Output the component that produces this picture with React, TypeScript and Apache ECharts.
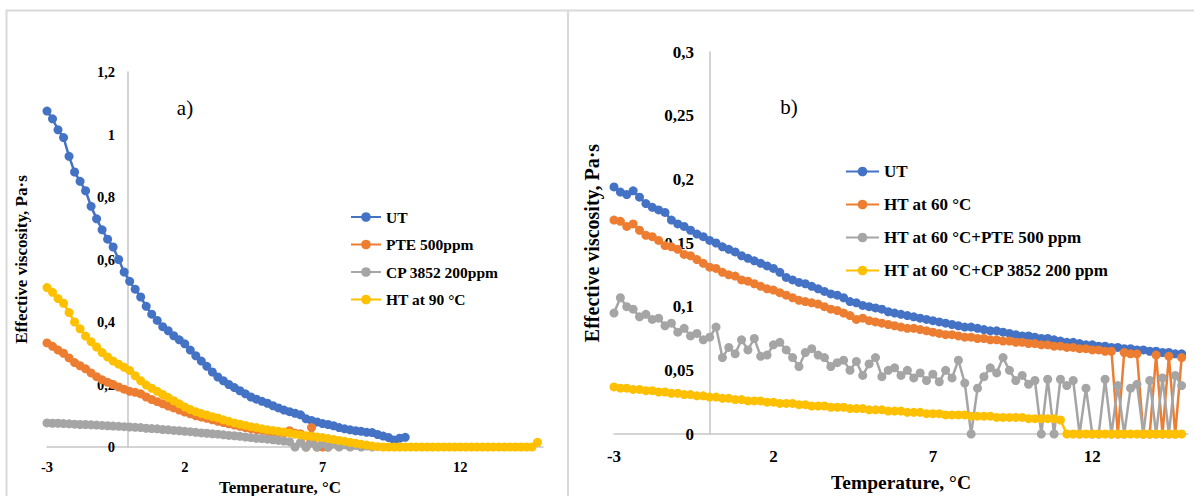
import React, { useEffect, useRef } from "react";
import * as echarts from "echarts";

// Temperature grid (°C), shared by every series
const TEMPS = [
  -3, -2.8, -2.6, -2.4, -2.2, -2, -1.8, -1.6, -1.4, -1.2, -1, -0.8, -0.6, -0.4, -0.2,
  0, 0.2, 0.4, 0.6, 0.8, 1, 1.2, 1.4, 1.6, 1.8, 2, 2.2, 2.4, 2.6, 2.8,
  3, 3.2, 3.4, 3.6, 3.8, 4, 4.2, 4.4, 4.6, 4.8, 5, 5.2, 5.4, 5.6, 5.8,
  6, 6.2, 6.4, 6.6, 6.8, 7, 7.2, 7.4, 7.6, 7.8, 8, 8.2, 8.4, 8.6, 8.8,
  9, 9.2, 9.4, 9.6, 9.8, 10, 10.2, 10.4, 10.6, 10.8, 11, 11.2, 11.4, 11.6, 11.8,
  12, 12.2, 12.4, 12.6, 12.8, 13, 13.2, 13.4, 13.6, 13.8, 14, 14.2, 14.4, 14.6, 14.8,
];

// Panel a) effective viscosity, Pa·s
const A_UT = [
  1.075, 1.05, 1.015, 0.99, 0.93, 0.88, 0.85, 0.82, 0.77, 0.73, 0.695, 0.665, 0.64, 0.6, 0.56,
  0.53, 0.505, 0.48, 0.45, 0.425, 0.405, 0.385, 0.372, 0.356, 0.343, 0.33, 0.31, 0.292, 0.275, 0.258,
  0.24, 0.224, 0.212, 0.2, 0.19, 0.18, 0.17, 0.16, 0.153, 0.146, 0.14, 0.132, 0.125, 0.118, 0.113,
  0.108, 0.103, 0.09, 0.085, 0.08, 0.075, 0.072, 0.068, 0.062, 0.058, 0.055, 0.052, 0.05, 0.047, 0.046,
  0.04, 0.035, 0.03, 0.022, 0.028, 0.031,
];
const A_PTE = [
  0.333, 0.322, 0.31, 0.3, 0.285, 0.27, 0.26, 0.25, 0.237, 0.225, 0.215, 0.207, 0.2, 0.192, 0.185,
  0.178, 0.175, 0.17, 0.16, 0.152, 0.145, 0.138, 0.131, 0.125, 0.118, 0.112, 0.106, 0.1, 0.096, 0.092,
  0.087, 0.082, 0.078, 0.074, 0.07, 0.066, 0.062, 0.059, 0.056, 0.053, 0.05, 0.048, 0.046, 0.045, 0.052,
  0.044, 0.042, 0, 0.062, 0, 0, 0,
];
const A_CP = [
  0.077, 0.076, 0.076, 0.075, 0.074, 0.073, 0.072, 0.072, 0.071, 0.07, 0.069, 0.068, 0.067, 0.066, 0.065,
  0.064, 0.063, 0.062, 0.06, 0.059, 0.058, 0.056, 0.055, 0.053, 0.052, 0.05, 0.049, 0.047, 0.045, 0.044,
  0.042, 0.041, 0.039, 0.037, 0.036, 0.034, 0.032, 0.03, 0.028, 0.027, 0.025, 0.023, 0.021, 0.019, 0.017,
  0, 0.015, 0, 0.013, 0, 0.011, 0, 0.009, 0, 0.007, 0, 0.005, 0, 0.003, 0,
];
const A_HT90 = [
  0.51, 0.495, 0.475, 0.46, 0.43, 0.4, 0.378, 0.355, 0.337, 0.32, 0.302, 0.288, 0.275, 0.265, 0.255,
  0.245, 0.228, 0.212, 0.198, 0.188, 0.178, 0.168, 0.158, 0.148, 0.138, 0.128, 0.12, 0.113, 0.107, 0.102,
  0.097, 0.093, 0.087, 0.082, 0.077, 0.073, 0.069, 0.065, 0.062, 0.058, 0.055, 0.053, 0.05, 0.048, 0.045,
  0.041, 0.038, 0.036, 0.034, 0.032, 0.03, 0.027, 0.024, 0.021, 0.018, 0.015, 0.012, 0.009, 0.006, 0.003,
  0.001, 0, 0, 0, 0, 0, 0, 0, 0, 0, 0, 0, 0, 0, 0,
  0, 0, 0, 0, 0, 0, 0, 0, 0, 0, 0, 0, 0, 0, 0.015,
];

// Panel b) effective viscosity, Pa·s
const B_UT = [
  0.194, 0.19, 0.188, 0.191, 0.186, 0.181, 0.178, 0.176, 0.174, 0.168, 0.165, 0.163, 0.16, 0.157, 0.155,
  0.152, 0.15, 0.147, 0.145, 0.143, 0.14, 0.138, 0.136, 0.134, 0.132, 0.13, 0.127, 0.123, 0.121, 0.119,
  0.118, 0.116, 0.114, 0.112, 0.11, 0.109, 0.107, 0.104, 0.103, 0.101, 0.1, 0.099, 0.098, 0.096, 0.095,
  0.094, 0.093, 0.092, 0.091, 0.09, 0.089, 0.088, 0.087, 0.086, 0.085, 0.084, 0.084, 0.083, 0.082, 0.081,
  0.081, 0.08, 0.079, 0.078, 0.077, 0.077, 0.076, 0.075, 0.075, 0.074, 0.073, 0.072, 0.072, 0.071, 0.07,
  0.07, 0.069, 0.069, 0.068, 0.068, 0.067, 0.067, 0.066, 0.066, 0.065, 0.065, 0.064, 0.064, 0.063, 0.063,
];
const B_HT60 = [
  0.168, 0.167, 0.163, 0.165, 0.16, 0.156, 0.155, 0.152, 0.148, 0.147, 0.145, 0.141, 0.14, 0.137, 0.134,
  0.131, 0.13, 0.127, 0.125, 0.124, 0.121, 0.12, 0.118, 0.116, 0.114, 0.113, 0.111, 0.109, 0.107, 0.105,
  0.104, 0.103, 0.102, 0.1, 0.098, 0.097, 0.095, 0.093, 0.09, 0.091, 0.089, 0.088, 0.087, 0.086, 0.085,
  0.084, 0.083, 0.083, 0.082, 0.081, 0.08, 0.079, 0.078, 0.078, 0.077, 0.076, 0.076, 0.075, 0.075, 0.074,
  0.074, 0.073, 0.073, 0.072, 0.072, 0.071, 0.071, 0.07, 0.07, 0.069, 0.069, 0.068, 0.068, 0.067, 0.067,
  0.066, 0.066, 0.065, 0.065, 0, 0.064, 0.063, 0.063, 0, 0, 0.062, 0, 0.061, 0, 0.06,
];
const B_HT60_PTE = [
  0.095, 0.107, 0.1, 0.098, 0.092, 0.094, 0.09, 0.091, 0.085, 0.087, 0.08, 0.083, 0.077, 0.079, 0.074,
  0.076, 0.084, 0.06, 0.068, 0.063, 0.074, 0.066, 0.075, 0.061, 0.062, 0.07, 0.072, 0.066, 0.06, 0.053,
  0.064, 0.067, 0.062, 0.06, 0.053, 0.056, 0.058, 0.05, 0.057, 0.046, 0.055, 0.06, 0.045, 0.05, 0.052,
  0.046, 0.05, 0.044, 0.048, 0.042, 0.047, 0.041, 0.05, 0.044, 0.058, 0.04, 0, 0.036, 0.045, 0.052,
  0.048, 0.06, 0.05, 0.042, 0.046, 0.039, 0.042, 0, 0.043, 0, 0.043, 0.038, 0.042, 0, 0.036,
  0, 0, 0.043, 0, 0.038, 0, 0.036, 0.039, 0, 0.042, 0, 0.044, 0, 0.046, 0.038,
];
const B_HT60_CP = [
  0.037, 0.036, 0.036, 0.035, 0.035, 0.034, 0.034, 0.033, 0.033, 0.032, 0.032, 0.031, 0.031, 0.03, 0.03,
  0.029, 0.029, 0.028, 0.028, 0.027, 0.027, 0.026, 0.026, 0.026, 0.025, 0.025, 0.024, 0.024, 0.024, 0.023,
  0.023, 0.022, 0.022, 0.022, 0.021, 0.021, 0.021, 0.02, 0.02, 0.02, 0.019, 0.019, 0.019, 0.018, 0.018,
  0.018, 0.017, 0.017, 0.017, 0.016, 0.016, 0.016, 0.015, 0.015, 0.015, 0.015, 0.014, 0.014, 0.014, 0.014,
  0.013, 0.013, 0.013, 0.013, 0.013, 0.012, 0.012, 0.012, 0.012, 0.012, 0.011, 0, 0, 0, 0,
  0, 0, 0, 0, 0, 0, 0, 0, 0, 0, 0, 0, 0, 0, 0,
];

const NAMES_A = ["UT", "PTE 500ppm", "CP 3852 200ppm", "HT at 90 °C"];
const NAMES_B = ["UT", "HT at 60 °C", "HT at 60 °C+PTE 500 ppm", "HT at 60 °C+CP 3852 200 ppm"];
const X_NAME = "Temperature, °C";
const Y_NAME = "Effective viscosity, Pa·s";

const COLORS = ["#4472C4", "#ED7D31", "#A5A5A5", "#FFC000"];
const SERIF = "'Liberation Serif', 'Times New Roman', serif";
const AXIS_GRAY = "#c6c6c6";
const BORDER_GRAY = "#d9d9d9";

const pairs = (vals: number[]) => vals.map((v, i) => [TEMPS[i], v]);
const commaFmt = (v: number) => String(Math.round(v * 1000) / 1000).replace(".", ",");

function mkSeries(name: string, vals: number[], color: string, idx: number) {
  return {
    type: "line",
    name,
    xAxisIndex: idx,
    yAxisIndex: idx,
    data: pairs(vals),
    symbol: "circle",
    symbolSize: 9,
    showSymbol: true,
    lineStyle: { color, width: 2.5 },
    itemStyle: { color },
    emphasis: { disabled: true },
  };
}

function mkXAxis(idx: number, fontSize: number, margin: number, nameSize: number, nameGap: number, namePad: number[]) {
  return {
    type: "value",
    gridIndex: idx,
    min: -3,
    max: 15,
    interval: 5,
    axisLine: { show: true, onZero: false, lineStyle: { color: AXIS_GRAY, width: 1.5 } },
    axisTick: { show: false },
    splitLine: { show: false },
    axisLabel: {
      showMaxLabel: false,
      margin,
      fontFamily: SERIF,
      fontWeight: "bold",
      fontSize,
      color: "#000",
    },
    name: X_NAME,
    nameLocation: "middle",
    nameGap,
    nameTextStyle: { fontFamily: SERIF, fontWeight: "bold", fontSize: nameSize, color: "#000", padding: namePad },
  };
}

// offset < 0 moves the vertical axis inward so that it crosses the x axis at 0 °C
function mkYAxis(idx: number, max: number, interval: number, offset: number, fontSize: number, margin: number, nameSize: number, nameGap: number) {
  return {
    type: "value",
    gridIndex: idx,
    min: 0,
    max,
    interval,
    offset,
    axisLine: { show: true, onZero: false, lineStyle: { color: AXIS_GRAY, width: 1.5 } },
    axisTick: { show: false },
    splitLine: { show: false },
    axisLabel: {
      margin,
      fontFamily: SERIF,
      fontWeight: "bold",
      fontSize,
      color: "#000",
      formatter: commaFmt,
    },
    name: Y_NAME,
    nameLocation: "middle",
    nameGap,
    nameTextStyle: { fontFamily: SERIF, fontWeight: "bold", fontSize: nameSize, color: "#000" },
  };
}

export default function App() {
  const ref = useRef<HTMLDivElement>(null);

  useEffect(() => {
    if (!ref.current) return;
    const chart = echarts.init(ref.current, null, { renderer: "svg" });
    const seriesA = [A_UT, A_PTE, A_CP, A_HT90].map((vals, i) => mkSeries(NAMES_A[i], vals, COLORS[i], 0));
    const seriesB = [B_UT, B_HT60, B_HT60_PTE, B_HT60_CP].map((vals, i) => mkSeries(NAMES_B[i], vals, COLORS[i], 1));

    const option: any = {
      animation: false,
      backgroundColor: "#ffffff",
      grid: [
        { left: 47, top: 72, width: 496, height: 375, containLabel: false, outerBoundsMode: "none" },
        { left: 614, top: 52, width: 574, height: 382, containLabel: false, outerBoundsMode: "none" },
      ],
      xAxis: [
        mkXAxis(0, 14.5, 12, 17, 28, [0, 30, 0, 0]),
        mkXAxis(1, 17, 14, 19.5, 38, [0, 0, 0, 0]),
      ],
      yAxis: [
        mkYAxis(0, 1.2, 0.2, -81, 14.5, 13, 17, 98),
        mkYAxis(1, 0.3, 0.05, -96, 17, 16, 20, 108),
      ],
      legend: [
        {
          data: NAMES_A,
          orient: "vertical",
          left: 345,
          top: 204,
          itemWidth: 30,
          itemHeight: 12,
          itemGap: 11.5,
          textStyle: { fontFamily: SERIF, fontWeight: "bold", fontSize: 15.5, color: "#000" },
          selectedMode: false,
        },
        {
          data: NAMES_B,
          orient: "vertical",
          left: 840,
          top: 158,
          itemWidth: 33,
          itemHeight: 12,
          itemGap: 16,
          textStyle: { fontFamily: SERIF, fontWeight: "bold", fontSize: 17, color: "#000" },
          selectedMode: false,
        },
      ],
      graphic: [
        { type: "line", shape: { x1: 6, y1: 10.5, x2: 1194, y2: 10.5 }, style: { stroke: BORDER_GRAY, lineWidth: 2 }, silent: true },
        { type: "line", shape: { x1: 6.5, y1: 10, x2: 6.5, y2: 496 }, style: { stroke: BORDER_GRAY, lineWidth: 2 }, silent: true },
        { type: "line", shape: { x1: 568, y1: 10, x2: 568, y2: 496 }, style: { stroke: BORDER_GRAY, lineWidth: 2 }, silent: true },
        {
          type: "text",
          x: 185,
          y: 108,
          style: { text: "a)", fontFamily: SERIF, fontSize: 21, fill: "#000", align: "center", verticalAlign: "middle" },
          silent: true,
        },
        {
          type: "text",
          x: 789,
          y: 107,
          style: { text: "b)", fontFamily: SERIF, fontSize: 21, fill: "#000", align: "center", verticalAlign: "middle" },
          silent: true,
        },
      ],
      series: [...seriesA, ...seriesB],
    };
    chart.setOption(option);
    return () => chart.dispose();
  }, []);

  return (
    <div
      ref={ref}
      style={{ position: "absolute", left: 0, top: 0, width: 1194, height: 496, background: "#fff" }}
    />
  );
}
